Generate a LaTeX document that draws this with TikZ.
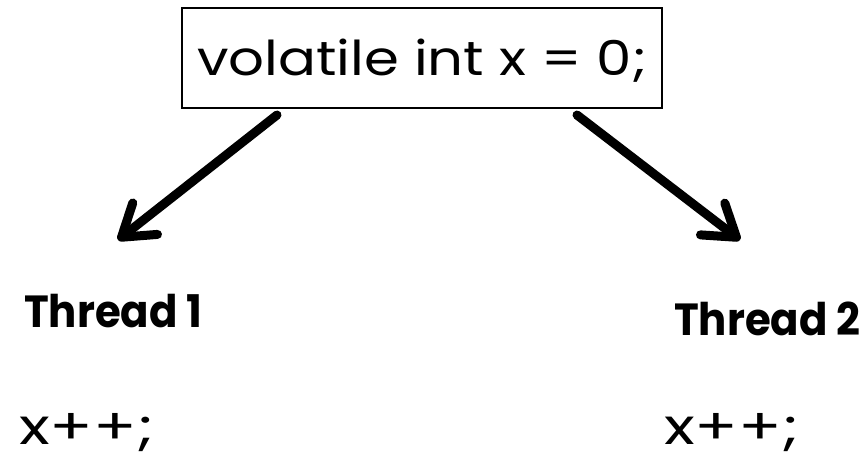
\documentclass[tikz,border=0pt]{standalone}
\usepackage{fontspec}
\setmainfont{Poppins}
\usetikzlibrary{arrows.meta}
\begin{document}
\begin{tikzpicture}[x=1pt,y=-1pt,
  codebox/.style={draw, line width=1.8pt, minimum width=480pt, minimum height=100pt, inner sep=0pt, text height=40pt, text depth=6pt, font=\fontsize{48}{54}\selectfont},
  thlabel/.style={inner sep=0pt, anchor=base west, font=\fontsize{45}{50}\selectfont\bfseries},
  code/.style={inner sep=0pt, anchor=base west, font=\fontsize{50}{56}\selectfont},
  arr/.style={line width=9pt, line cap=round, -{Straight Barb[length=30pt, width=40pt, line cap=round, line join=round]}}]
\useasboundingbox (0,0) rectangle (863,463);
\node[codebox] (top) at (422,58) {\scalebox{1.17}[1]{volatile int x = 0;}};
\node[thlabel] (t1) at (24,327) {\scalebox{0.93}[1]{Thread 1}};
\node[thlabel] (t2) at (674,335) {\scalebox{0.93}[1]{Thread 2}};
\node[code] (c1) at (19,444) {\scalebox{1.28}[1]{x++;}};
\node[code] (c2) at (664,444) {\scalebox{1.28}[1]{x++;}};
\coordinate (s1) at (277,115);
\coordinate (e1) at (118,240);
\coordinate (s2) at (577,115);
\coordinate (e2) at (740,240);
\draw[arr] (s1) -- (e1);
\draw[arr] (s2) -- (e2);
\end{tikzpicture}
\end{document}
